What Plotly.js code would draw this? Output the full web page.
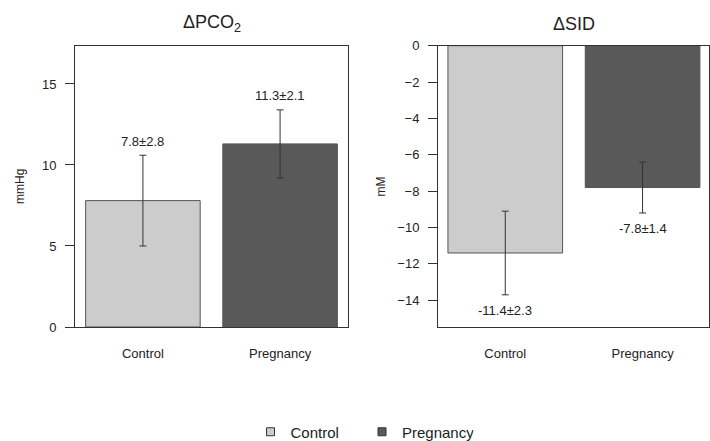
<!DOCTYPE html>
<html>
<head>
<meta charset="utf-8">
<script src="https://cdn.plot.ly/plotly-3.0.1.min.js"></script>
<style>html,body{margin:0;padding:0;background:#fff;}#chart{width:710px;height:441px;}</style>
</head>
<body>
<div id="chart"></div>
<script>
var categories = ['Control', 'Pregnancy'];
var pco2Mean = [7.8, 11.3];
var pco2SD = [2.8, 2.1];
var sidMean = [-11.4, -7.8];
var sidSD = [2.3, 1.4];
var pco2Ticks = [0, 5, 10, 15];
var sidTicks = [0, -2, -4, -6, -8, -10, -12, -14];
var barColors = ['#cccccc', '#595959'];

var W = 710, H = 441;
var FONT = 'Liberation Sans, Arial, sans-serif';
var ink = '#222222';

function fx(px) { return px / W; }
function fy(py) { return (H - py) / H; }

var yDom = [fy(327), fy(45.7)];

var traces = [
  {
    type: 'bar', x: categories, y: pco2Mean, xaxis: 'x', yaxis: 'y',
    width: 0.835, showlegend: false, hoverinfo: 'skip',
    marker: {color: barColors, line: {color: '#555555', width: 1}},
    error_y: {type: 'data', array: pco2SD, visible: true, color: '#333333', thickness: 1, width: 3.5}
  },
  {
    type: 'bar', x: categories, y: sidMean, xaxis: 'x2', yaxis: 'y2',
    width: 0.835, showlegend: false, hoverinfo: 'skip',
    marker: {color: barColors, line: {color: '#555555', width: 1}},
    error_y: {type: 'data', array: sidSD, visible: true, color: '#333333', thickness: 1, width: 3.5}
  }
];
categories.forEach(function (c, i) {
  traces.push({
    type: 'scatter', mode: 'markers', x: [null], y: [null], name: c,
    xaxis: 'x', yaxis: 'y',
    marker: {symbol: 'square', size: 8, color: barColors[i], line: {color: '#333333', width: 1}}
  });
});

var annotations = [];
categories.forEach(function (c, i) {
  annotations.push({
    xref: 'x', yref: 'y', x: c, y: pco2Mean[i] + pco2SD[i],
    text: pco2Mean[i].toFixed(1) + '±' + pco2SD[i].toFixed(1),
    showarrow: false, yanchor: 'middle', yshift: 14,
    font: {family: FONT, size: 13, color: ink}
  });
  annotations.push({
    xref: 'x2', yref: 'y2', x: c, y: sidMean[i] - sidSD[i],
    text: sidMean[i].toFixed(1) + '±' + sidSD[i].toFixed(1),
    showarrow: false, yanchor: 'middle', yshift: -16,
    font: {family: FONT, size: 13, color: ink}
  });
});
// panel titles
annotations.push({xref: 'paper', yref: 'paper', x: fx(211.5), y: fy(24), xanchor: 'center', yanchor: 'middle',
  text: 'ΔPCO<sub>2</sub>', showarrow: false, font: {family: FONT, size: 18, color: ink}});
annotations.push({xref: 'paper', yref: 'paper', x: fx(573.6), y: fy(24), xanchor: 'center', yanchor: 'middle',
  text: 'ΔSID', showarrow: false, font: {family: FONT, size: 18, color: ink}});
// axis titles
annotations.push({xref: 'paper', yref: 'paper', x: fx(19.5), y: fy(186.5), xanchor: 'center', yanchor: 'middle',
  text: 'mmHg', textangle: -90, showarrow: false, font: {family: FONT, size: 12, color: ink}});
annotations.push({xref: 'paper', yref: 'paper', x: fx(380), y: fy(186.5), xanchor: 'center', yanchor: 'middle',
  text: 'mM', textangle: -90, showarrow: false, font: {family: FONT, size: 12, color: ink}});

var xBase = {
  type: 'category', showgrid: false, zeroline: false, showline: true, mirror: true,
  linecolor: '#333333', linewidth: 1, ticks: '', ticklabelstandoff: 14,
  tickfont: {family: FONT, size: 13, color: ink}, fixedrange: true
};
var yBase = {
  showgrid: false, zeroline: false, showline: true, mirror: true,
  linecolor: '#333333', linewidth: 1, ticks: 'outside', ticklen: 9, tickcolor: '#333333',
  tickwidth: 1, ticklabelstandoff: 6, tickmode: 'array',
  tickfont: {family: FONT, size: 13, color: ink}, fixedrange: true
};

var layout = {
  width: W, height: H,
  margin: {l: 0, r: 0, t: 0, b: 0, autoexpand: false},
  paper_bgcolor: '#ffffff', plot_bgcolor: '#ffffff',
  font: {family: FONT, color: ink},
  barmode: 'group',
  xaxis: Object.assign({}, xBase, {domain: [fx(75), fx(348)], range: [-0.495, 1.495], anchor: 'y'}),
  yaxis: Object.assign({}, yBase, {domain: yDom, range: [0, 17.36], tickvals: pco2Ticks, anchor: 'x'}),
  xaxis2: Object.assign({}, xBase, {domain: [fx(438), fx(709.3)], range: [-0.49, 1.486], anchor: 'y2'}),
  yaxis2: Object.assign({}, yBase, {domain: yDom, range: [-15.47, 0], tickvals: sidTicks, anchor: 'x2'}),
  showlegend: true,
  legend: {
    orientation: 'h', x: fx(250.5), xanchor: 'left', y: fy(432), yanchor: 'middle',
    font: {family: FONT, size: 15, color: ink}, bgcolor: 'rgba(0,0,0,0)',
    entrywidth: 66.5, entrywidthmode: 'pixels'
  },
  annotations: annotations
};

Plotly.newPlot('chart', traces, layout, {staticPlot: true, displayModeBar: false});
</script>
</body>
</html>
